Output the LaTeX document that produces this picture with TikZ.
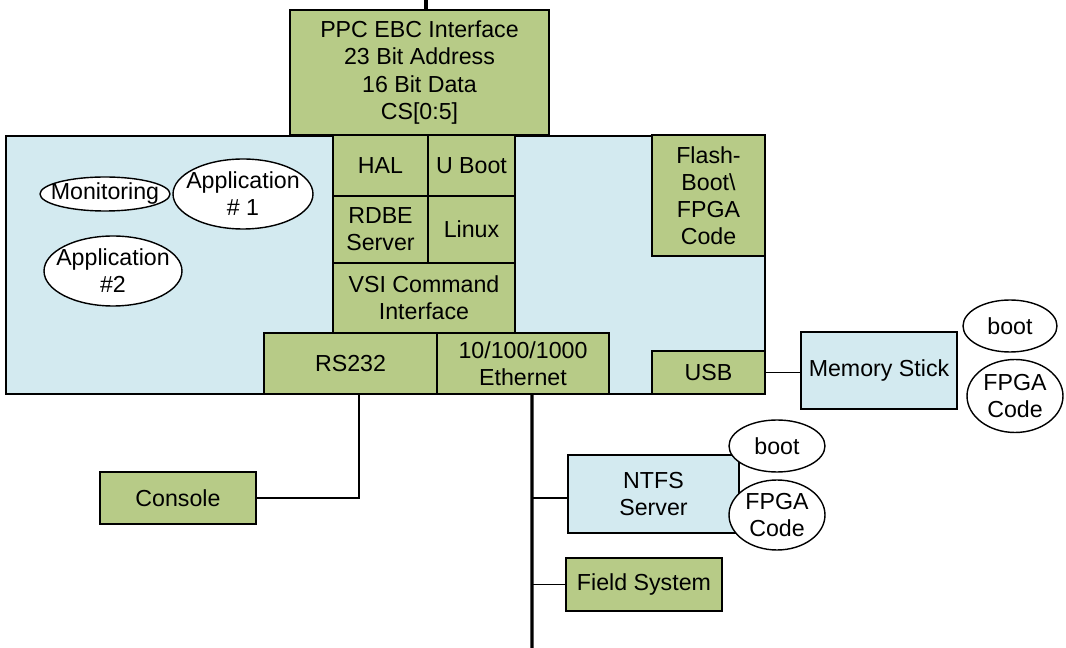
\documentclass[tikz,border=0pt]{standalone}
\usepackage{fontspec}
\setmainfont{Liberation Sans}
\usetikzlibrary{shapes.geometric}
\definecolor{boxgreen}{RGB}{183,203,135}
\definecolor{boxblue}{RGB}{211,234,240}
\tikzset{
  txt/.style={align=center, font=\fontsize{13.2}{15.4}\selectfont},
  base/.style={draw=black, line width=0.8pt, inner sep=0pt, txt},
  gbox/.style={base, rectangle, fill=boxgreen},
  bbox/.style={base, rectangle, fill=boxblue},
  oval/.style={base, ellipse, fill=white, label={[txt, inner sep=0pt]center:#1}},
  wire/.style={line width=1.1pt},
  bus/.style={line width=1.8pt}
}
\begin{document}
\begin{tikzpicture}[x=0.02cm,y=-0.02cm]
\useasboundingbox (0,0) rectangle (1066,648);

% top-level board and processor interface
\node[bbox, minimum width=15.18cm, minimum height=5.16cm] (board) at (385.5,265) {};
\node[gbox, minimum width=5.18cm, minimum height=2.5cm] (ppc) at (419.5,72.5)
  {PPC EBC Interface\\23 Bit Address\\16 Bit Data\\CS[0:5]};

% software stack
\node[gbox, minimum width=1.9cm, minimum height=1.22cm] (hal) at (380.5,165.5) {HAL};
\node[gbox, minimum width=1.74cm, minimum height=1.22cm] (uboot) at (471.5,165.5) {U Boot};
\node[gbox, minimum width=1.9cm, minimum height=1.34cm] (rdbe) at (380.5,229.5) {RDBE\\Server};
\node[gbox, minimum width=1.74cm, minimum height=1.34cm] (linux) at (471.5,229.5) {Linux};
\node[gbox, minimum width=3.64cm, minimum height=1.4cm] (vsi) at (424,298) {VSI Command\\Interface};
\node[gbox, minimum width=3.46cm, minimum height=1.22cm] (rs) at (350.5,363.5) {RS232};
\node[gbox, minimum width=3.44cm, minimum height=1.22cm] (eth) at (523,363.5) {10/100/1000\\Ethernet};
\node[gbox, minimum width=2.26cm, minimum height=2.42cm] (flash) at (708.5,195.5)
  {Flash-\\Boot\textbackslash\\FPGA\\Code};
\node[gbox, minimum width=2.26cm, minimum height=0.86cm] (usb) at (708.5,372.5) {USB};

% applications
\node[oval={Monitoring}, minimum width=2.6cm, minimum height=0.68cm] (mon) at (105,194) {};
\node[oval={Application\\\# 1}, minimum width=2.8cm, minimum height=1.4cm] (app1) at (243,194) {};
\node[oval={Application\\\#2}, minimum width=2.76cm, minimum height=1.4cm] (app2) at (113,271) {};

% external devices
\node[bbox, minimum width=3.12cm, minimum height=1.54cm] (stick) at (879,370.5) {Memory Stick};
\node[oval={boot}, minimum width=1.88cm, minimum height=1.04cm] (sboot) at (1010,326) {};
\node[oval={FPGA\\Code}, minimum width=1.92cm, minimum height=1.46cm] (sfpga) at (1015,396) {};

\node[gbox, minimum width=3.12cm, minimum height=1.04cm] (console) at (178,498) {Console};

\node[bbox, minimum width=3.42cm, minimum height=1.56cm] (ntfs) at (653.5,494) {NTFS\\Server};
\node[oval={boot}, minimum width=1.92cm, minimum height=1.04cm] (nboot) at (777,446) {};
\node[oval={FPGA\\Code}, minimum width=1.92cm, minimum height=1.4cm] (nfpga) at (777,515) {};

\node[gbox, minimum width=3.12cm, minimum height=1.06cm] (field) at (644,584.5) {Field System};

% connections
\coordinate (bustop) at (426,0);
\coordinate (busend) at (532,648);
\draw[bus] (bustop) -- (bustop |- ppc.north);
\draw[wire] ([xshift=0.17cm]rs.south) |- (console.east);
\draw[bus] ([xshift=0.18cm]eth.south) -- (busend);
\draw[wire] ([yshift=-0.08cm]ntfs.west) -- ([yshift=-0.08cm]ntfs.west -| busend);
\draw[wire] (field.west) -- (field.west -| busend);
\draw[wire] (usb.east) -- (usb.east -| stick.west);
\end{tikzpicture}
\end{document}
